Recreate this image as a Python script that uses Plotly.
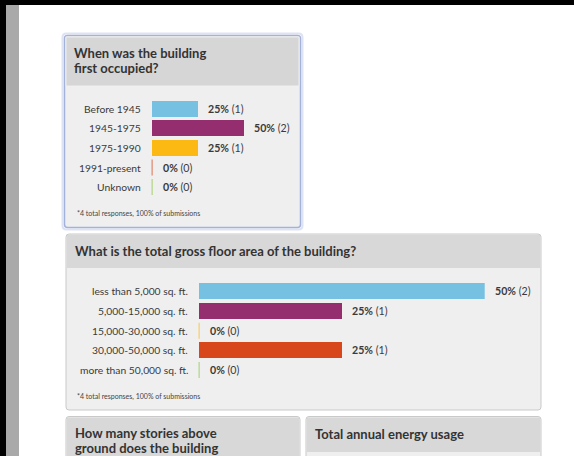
import plotly.graph_objects as go

W, H = 574, 456

# ---------------- data ----------------
q1_title = ["When was the building", "first occupied?"]
q1_categories = ["Before 1945", "1945-1975", "1975-1990", "1991-present", "Unknown"]
q1_percent = [25, 50, 25, 0, 0]
q1_counts = [1, 2, 1, 0, 0]

q2_title = ["What is the total gross floor area of the building?"]
q2_categories = ["less than 5,000 sq. ft.", "5,000-15,000 sq. ft.", "15,000-30,000 sq. ft.",
                 "30,000-50,000 sq. ft.", "more than 50,000 sq. ft."]
q2_percent = [50, 25, 0, 25, 0]
q2_counts = [2, 1, 0, 1, 0]

q3_title = ["How many stories above", "ground does the building"]
q4_title = ["Total annual energy usage"]
footnote = "*4 total responses, 100% of submissions"

palette = ["#76c1e2", "#952e6f", "#fdb913", "#d8461b", "#8dc63f"]

FONT = "Lato"
TXT = "#3a3a3a"

fig = go.Figure()


def rrect(x0, y0, x1, y1, r):
    return (f"M{x0+r},{y0} L{x1-r},{y0} Q{x1},{y0} {x1},{y0+r} L{x1},{y1-r} "
            f"Q{x1},{y1} {x1-r},{y1} L{x0+r},{y1} Q{x0},{y1} {x0},{y1-r} "
            f"L{x0},{y0+r} Q{x0},{y0} {x0+r},{y0} Z")


shapes = []
# page frame
shapes.append(dict(type="rect", x0=0, x1=W, y0=0, y1=5, fillcolor="#000", line_width=0))
shapes.append(dict(type="rect", x0=0, x1=6, y0=0, y1=H, fillcolor="#000", line_width=0))
shapes.append(dict(type="rect", x0=6, x1=19, y0=5, y1=H, fillcolor="#a9a9a9", line_width=0))


def panel(x0, y0, x1, y1, hy, border="#c9c9c9", bw=1):
    shapes.append(dict(type="path", path=rrect(x0, y0, x1, y1, 3), fillcolor="#efefef",
                       line=dict(color=border, width=bw)))
    shapes.append(dict(type="rect", x0=x0 + 1, x1=x1 - 1, y0=y0 + 1, y1=hy,
                       fillcolor="#d8d8d8", line_width=0))


# panel 1 has a blue focus glow
shapes.append(dict(type="path", path=rrect(62.5, 33.5, 302.5, 229.5, 4), fillcolor="rgba(0,0,0,0)",
                   line=dict(color="#dde3f2", width=2)))
panel(64.5, 35.5, 300.5, 227.5, 86, border="#a3b2da", bw=1.5)
shapes.append(dict(type="rect", x0=66, x1=299, y0=37, y1=86, fillcolor="#d6d6d6",
                   line=dict(color="#f4f4f4", width=0.8)))
panel(66, 234, 541, 410, 268)
panel(66, 416.5, 300, 480, 480)
panel(306, 416.5, 541, 480, 452)

annotations = []


def hdr(lines, x, y0, step=15):
    for j, t in enumerate(lines):
        annotations.append(dict(text=f"<b>{t}</b>", x=x, y=y0 + j * step, xref="x", yref="y",
                                xanchor="left", yanchor="middle", showarrow=False, align="left",
                                font=dict(family=FONT, size=13, color="#333")))


hdr(q1_title, 72, 52.8)
hdr(q2_title, 72.5, 251)
hdr(q3_title, 72.5, 433.3)
hdr(q4_title, 313, 434)

for fy in (213, 396):
    annotations.append(dict(text=footnote, x=74.5, y=fy, xref="x", yref="y", xanchor="left",
                            yanchor="middle", showarrow=False,
                            font=dict(family=FONT, size=7, color="#444")))


def bar_block(ax, cats, pct, cnt, x_start, px_per_unit, xmax, first_center, spacing, bh):
    xa, ya = f"xaxis{ax}", f"yaxis{ax}"
    xr, yr = f"x{ax}", f"y{ax}"
    n = len(cats)
    idx = list(range(n))
    top = first_center - spacing / 2
    bot = top + spacing * n
    fig.add_trace(go.Bar(x=pct, y=idx, orientation="h", xaxis=xr, yaxis=yr,
                         width=bh / spacing, marker=dict(color=palette[:n], line_width=0),
                         hoverinfo="skip", showlegend=False))
    # thin markers for zero-valued answers
    for i, v in enumerate(pct):
        if v == 0:
            fig.add_trace(go.Scatter(x=[v, v], y=[i - bh / spacing / 2, i + bh / spacing / 2],
                                     mode="lines", xaxis=xr, yaxis=yr,
                                     line=dict(color=palette[i], width=1.5),
                                     hoverinfo="skip", showlegend=False))
    for i, (c, v, k) in enumerate(zip(cats, pct, cnt)):
        annotations.append(dict(text=c, x=0, y=i, xref=xr, yref=yr, xanchor="right",
                                yanchor="middle", xshift=-9, showarrow=False,
                                font=dict(family=FONT, size=10.3, color=TXT)))
        annotations.append(dict(text=f"<b>{v}%</b> ({k})", x=v, y=i, xref=xr, yref=yr,
                                xanchor="left", yanchor="middle", xshift=8 if v else 9,
                                showarrow=False, font=dict(family=FONT, size=10.6, color=TXT)))
    x_end = x_start + px_per_unit * xmax
    fig.layout[xa] = dict(domain=[x_start / W, x_end / W], range=[0, xmax], visible=False,
                          fixedrange=True, anchor=yr)
    fig.layout[ya] = dict(domain=[1 - bot / H, 1 - top / H], range=[n - 0.5, -0.5],
                          visible=False, fixedrange=True, anchor=xr)


bar_block(2, q1_categories, q1_percent, q1_counts, 151.7, 1.84, 100, 108.9, 19.55, 16)
bar_block(3, q2_categories, q2_percent, q2_counts, 198.7, 5.72, 50, 291.3, 19.7, 16)

fig.update_layout(
    width=W, height=H, margin=dict(l=0, r=0, t=0, b=0),
    paper_bgcolor="#ffffff", plot_bgcolor="rgba(0,0,0,0)",
    xaxis=dict(range=[0, W], domain=[0, 1], visible=False, fixedrange=True),
    yaxis=dict(range=[H, 0], domain=[0, 1], visible=False, fixedrange=True),
    shapes=shapes, annotations=annotations, bargap=0, showlegend=False,
)
for s in fig.layout.shapes:
    s.xref = "x"
    s.yref = "y"
    s.layer = "below"

fig.write_html("out.html", config=dict(displayModeBar=False),
               post_script="document.body.style.margin='0';document.body.style.overflow='hidden';")
